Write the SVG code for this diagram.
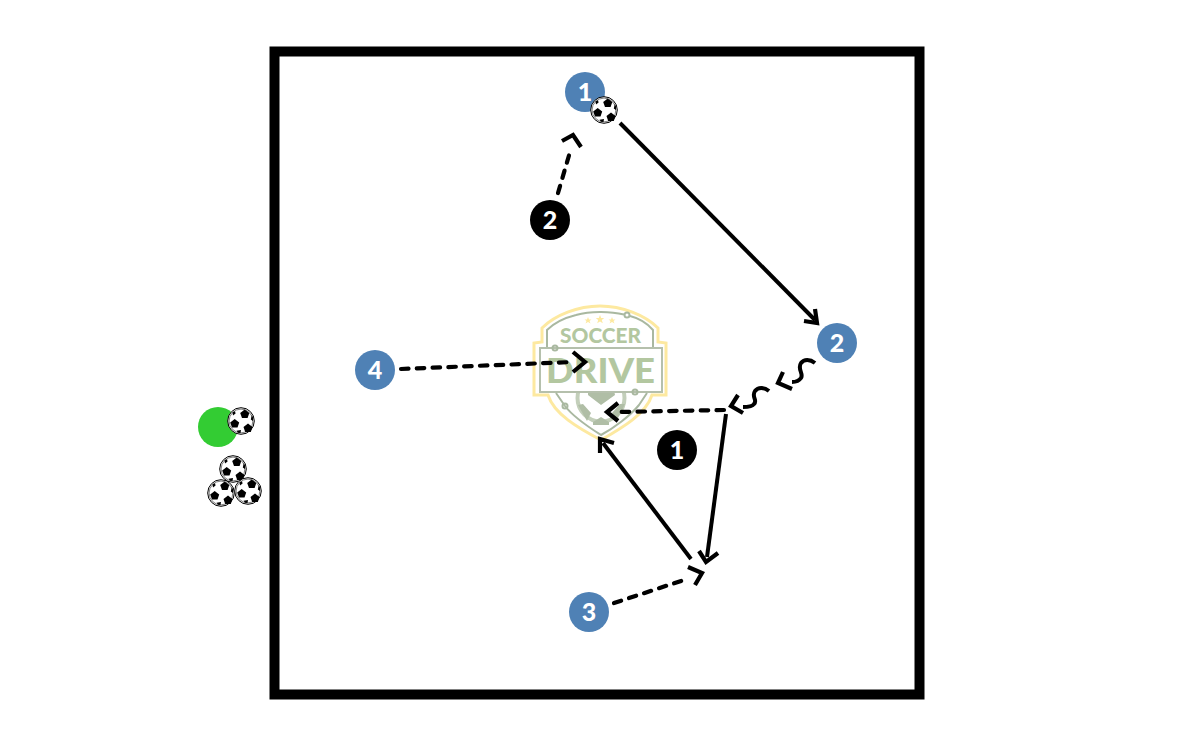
<svg xmlns="http://www.w3.org/2000/svg" width="1200" height="750" viewBox="0 0 1200 750">
<style>
.p{fill:#4f81b5}.d{fill:#000}
.n{font:900 25px "Lato","Liberation Sans",sans-serif;fill:#fff;text-anchor:middle}
.l{fill:none;stroke:#000;stroke-width:4}
.dash{stroke-dasharray:7.5 8.3;stroke-linecap:round;stroke-width:4.200}
.h{fill:none;stroke:#000;stroke-width:4.200}
.lg{fill:none;stroke:#a9b8a0;stroke-width:2}
.lt{font-family:"Lato","Liberation Sans",sans-serif;font-weight:900;fill:#b3c7a0;text-anchor:middle}
</style>
<defs>
<g id="ball">
<circle r="13.3" fill="#fff" stroke="#000" stroke-width="1"/>
<circle r="11.9" fill="none" stroke="#000" stroke-width=".5"/>
<path d="M3.700-11.500 8.300-8 6.600-3H1L-.8-8Z M-6.300-2-1.800 1.400-3.500 6.500H-9L-10.800 1.400Z M7 2.500 11.500 6 9.800 11H4.200L2.500 6Z M-4.500 9.800 0 9-.500 12-3 11.800Z M-8.500-8.800-6-9.800-5.400-7.500-8-5.500Z M10.800-6 12-3.500 12 0 9.800-1.500Z"/>
</g>
<clipPath id="shield"><path d="M600 308C620 308 640 316 651 329V392C645 412 620 426 601 436C580 426 556 412 550 392V329C560 316 580 308 600 308Z"/></clipPath>
</defs>
<rect x="274.500" y="51.500" width="645" height="643" fill="none" stroke="#000" stroke-width="10"/>
<g id="logo">
<path d="M600 306C622 306 645 315 658 328V342L666 343V395H652C646 414 622 428 601 440C578 428 554 414 548 395H534V343L542 342V328C555 315 578 306 600 306Z" fill="#fff" stroke="#fde9a0" stroke-width="3"/>
<path class="lg" d="M624 314.500C610 311 590 311 576 315C564 318 553 324 547 330V347M653 347V330C647 323 638 318 630 316"/>
<circle class="lg" cx="627" cy="315" r="2.500" fill="#fff"/>
<g clip-path="url(#shield)">
<circle cx="601" cy="398" r="23.500" fill="#fff" stroke="#c3cfba" stroke-width="4"/>
<path d="M588 390h26l1 5-14 10-13-10zM578 405l5-1 8 9-4 8zM625 404l-5 0-8 9 5 7zM593 422l8-5 8 5 0 3h-16z" fill="#b0bea6"/>
</g>
<path d="M588 317l1 2.500h2.500l-2 1.500 1 2.500-2.500-1.500-2.500 1.500 1-2.500-2-1.500h2.500zM600 315l1.200 3h3l-2.400 2 1 3.200-2.800-1.800-2.800 1.800 1-3.200-2.400-2h3zM612 317l1 2.500h2.500l-2 1.500 1 2.500-2.500-1.500-2.500 1.500 1-2.500-2-1.500h2.500z" fill="#fde9a0"/>
<text class="lt" x="600.500" y="343" font-size="21" textLength="81" lengthAdjust="spacingAndGlyphs">SOCCER</text>
<rect x="540" y="348" width="122" height="44" fill="#fff" stroke="#b5c0ac" stroke-width="2"/>
<circle class="lg" cx="555" cy="348" r="2.500" fill="#fff"/>
<circle class="lg" cx="635" cy="392" r="2.500" fill="#fff"/>
<path class="lg" d="M556 393 565 406C574 418 590 428 601 435C614 428 630 416 639 405L647 393"/>
<circle class="lg" cx="565" cy="406" r="2.500" fill="#fff"/>
<text class="lt" x="600.500" y="383" font-size="35" textLength="109" lengthAdjust="spacingAndGlyphs">DRIVE</text>
</g>
<g id="connectors">
<path class="l" d="M620 123 815 320"/><path class="h" d="M804 321 817 323 815 309"/>
<path class="l dash" d="M558 193 570 152"/><path class="h" d="M562 141 573 135 581 147"/>
<path class="l dash" d="M401 369 572 362"/><path class="h" d="M573 352 585 362 573 372"/>
<path class="l dash" d="M724 410 620 412"/><path class="h" d="M618 403 607 412 618 421"/>
<path class="l" d="M726 414 707 557"/><path class="h" d="M699 551 706 562 718 553"/>
<path class="l" d="M691 559 603 443"/><path class="h" d="M600 453 600 439 614 443"/>
<path class="l dash" d="M614 603 684 580"/><path class="h" d="M688 567 702 573 695 585"/>
<path class="l" d="M769 391C764 387 758 387 755 391C751 397 758 400 754 404C752 407 747 407 743 407"/><path class="h" d="M738 395 731 406 743 413"/>
<path class="l" d="M815 363C810 359 804 359 801 363C797 369 804 374 801 378C799 381 795 382 792 382"/><path class="h" d="M783 372 778 383 792 389"/>
</g>
<g id="p1"><circle class="p" cx="585" cy="92" r="20"/><text class="n" x="585" y="100.500">1</text></g>
<use id="ball1" href="#ball" x="604" y="110"/>
<g id="p2"><circle class="p" cx="837" cy="343" r="20"/><text class="n" x="837" y="351.500">2</text></g>
<g id="p3"><circle class="p" cx="589" cy="612" r="20"/><text class="n" x="589" y="620.500">3</text></g>
<g id="p4"><circle class="p" cx="375" cy="370" r="20"/><text class="n" x="375" y="378.500">4</text></g>
<g id="d1"><circle class="d" cx="677" cy="450" r="20"/><text class="n" x="677" y="458.500">1</text></g>
<g id="d2"><circle class="d" cx="550" cy="220" r="20"/><text class="n" x="550" y="228.500">2</text></g>
<g id="coach"><circle cx="218" cy="427" r="20" fill="#33cc33"/></g>
<g id="balls">
<use href="#ball" x="241" y="421"/>
<use href="#ball" x="233" y="469"/>
<use href="#ball" x="221" y="493"/>
<use href="#ball" x="248" y="491"/>
</g>
</svg>
